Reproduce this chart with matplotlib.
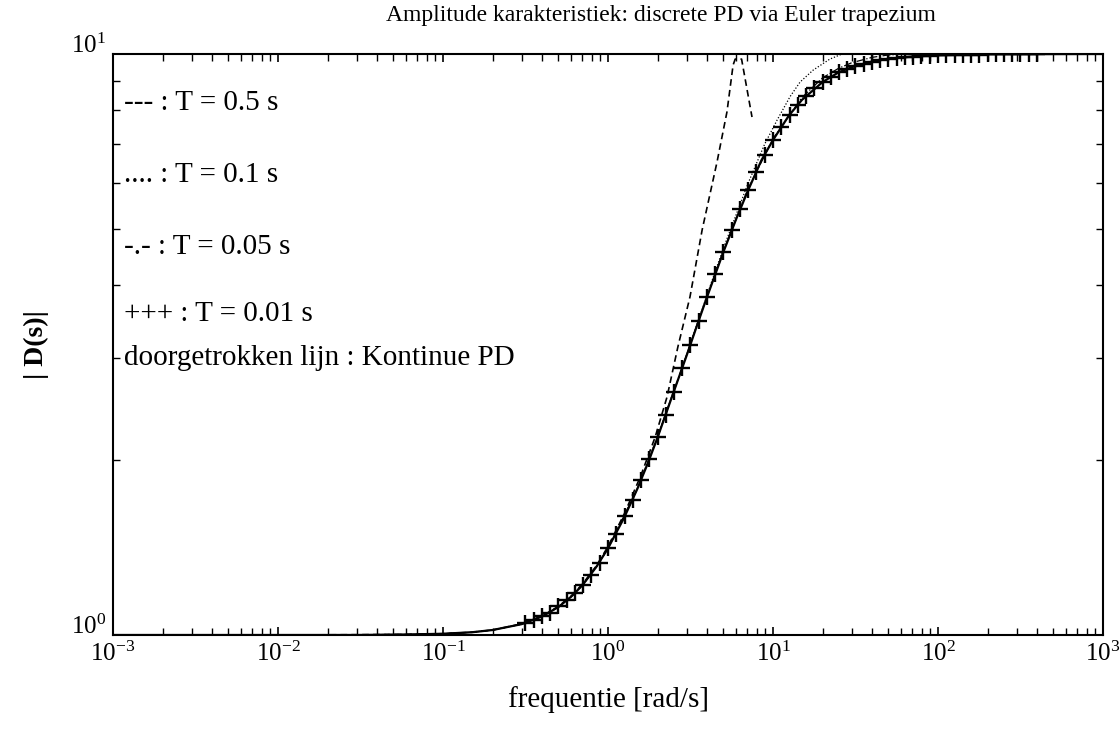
import matplotlib
matplotlib.use('Agg')
from matplotlib import pyplot as plt
from matplotlib.ticker import FixedLocator, LogLocator, NullFormatter
from matplotlib.transforms import ScaledTranslation

plt.rcParams['font.family'] = ['Liberation Serif', 'DejaVu Serif']
plt.rcParams['mathtext.fontset'] = 'stix'

# Continuous PD (solid line)
w_cont = [0.001, 0.01, 0.03, 0.06, 0.1, 0.15, 0.2, 0.3, 0.4, 0.5, 0.6, 0.7, 0.85,
          1.0, 1.25, 1.5, 1.75, 2.0, 2.5, 3.0, 3.5, 4.0, 5.0, 6.0, 7.0, 8.5,
          10, 12.5, 15, 20, 25, 30, 40, 50, 70, 100, 200, 1000]
mag_cont = [1.0, 1.0, 1.0, 1.002, 1.005, 1.011, 1.02, 1.044, 1.077, 1.117, 1.165, 1.218, 1.31,
            1.41, 1.59, 1.78, 1.98, 2.19, 2.62, 3.03, 3.44, 3.83, 4.56, 5.21, 5.79, 6.56,
            7.11, 7.84, 8.34, 8.95, 9.30, 9.49, 9.71, 9.81, 9.90, 9.95, 9.99, 10.0]

# T = 0.01 s (+++)
w_plus = [0.316, 0.355, 0.398, 0.447, 0.501, 0.562, 0.631, 0.708, 0.794, 0.891,
          1.0, 1.12, 1.26, 1.41, 1.58, 1.78, 2.0, 2.24, 2.51, 2.82,
          3.16, 3.55, 3.98, 4.47, 5.01, 5.62, 6.31, 7.08, 7.94, 8.91,
          10, 11.2, 12.6, 14.1, 15.8, 17.8, 20, 22.4, 25.1, 28.2,
          31.6, 35.5, 39.8, 44.7, 50.1, 56.2, 63.1, 70.8, 79.4, 89.1,
          100, 112, 126, 141, 158, 178, 200, 224, 251, 282, 316, 355, 398]
mag_plus = [1.05, 1.06, 1.08, 1.09, 1.12, 1.15, 1.18, 1.22, 1.27, 1.33,
            1.41, 1.49, 1.60, 1.71, 1.85, 2.01, 2.19, 2.39, 2.62, 2.88,
            3.16, 3.47, 3.81, 4.18, 4.57, 4.98, 5.40, 5.84, 6.27, 6.70,
            7.11, 7.50, 7.86, 8.18, 8.47, 8.73, 8.95, 9.14, 9.30, 9.43,
            9.54, 9.63, 9.70, 9.76, 9.81, 9.85, 9.88, 9.90, 9.92, 9.94,
            9.95, 9.96, 9.97, 9.98, 9.98, 9.98, 9.99, 9.99, 9.99, 9.99, 10.0, 10.0, 10.0]

# T = 0.5 s (dashed)
w_05 = [0.001, 0.01, 0.06, 0.1, 0.15, 0.2, 0.3, 0.4, 0.5, 0.6, 0.7, 0.85, 1.0, 1.26,
        1.58, 1.93, 2.28, 2.65, 3.14, 3.72, 4.58, 5.26, 5.73, 5.9, 6.45, 7.46]
mag_05 = [1.0, 1.0, 1.002, 1.005, 1.011, 1.02, 1.045, 1.078, 1.12, 1.168, 1.223, 1.315, 1.42, 1.62,
          1.88, 2.19, 2.57, 3.13, 3.82, 4.98, 6.52, 7.95, 9.57, 9.8, 9.8, 7.79]

# T = 0.1 s (dotted)
w_01 = [0.001, 0.01, 0.06, 0.1, 0.15, 0.2, 0.3, 0.4, 0.5, 0.6, 0.7, 0.85, 1.0, 1.5,
        2.0, 3.0, 4.0, 5.0, 7.08, 8.91, 10.6, 12.7, 14.6, 17.5, 22.1, 26.2, 31.4]
mag_01 = [1.0, 1.0, 1.002, 1.005, 1.011, 1.02, 1.044, 1.077, 1.117, 1.165, 1.218, 1.31, 1.41, 1.78,
          2.2, 3.04, 3.86, 4.63, 6.0, 7.0, 7.7, 8.45, 8.95, 9.38, 9.80, 10.0, 10.0]

# T = 0.05 s (dash-dot)
w_005 = [0.001, 0.01, 0.06, 0.1, 0.15, 0.2, 0.3, 0.4, 0.5, 0.6, 0.7, 0.85, 1.0, 1.5,
         2.0, 3.0, 4.0, 5.0, 7.0, 10, 15, 20, 25, 30, 40, 50, 62.8]
mag_005 = [1.0, 1.0, 1.002, 1.005, 1.011, 1.02, 1.044, 1.077, 1.117, 1.165, 1.218, 1.31, 1.41, 1.78,
           2.19, 3.04, 3.84, 4.57, 5.83, 7.15, 8.42, 9.1, 9.45, 9.66, 9.87, 9.96, 10.0]

x_ticks = [1e-3, 1e-2, 1e-1, 1e0, 1e1, 1e2, 1e3]
y_ticks = [1e0, 1e1]

legend_lines = ['--- : T = 0.5 s', '.... : T = 0.1 s', '-.- : T = 0.05 s',
                '+++ : T = 0.01 s', 'doorgetrokken lijn : Kontinue PD']
legend_y = [103, 175, 247, 314, 358]

fig = plt.figure(figsize=(11.2, 7.3), dpi=100)
ax = fig.add_axes([113 / 1120, 1 - 635 / 730, 990 / 1120, 581 / 730])

ax.loglog(w_cont, mag_cont, color='black', lw=1.6)
ax.loglog(w_plus, mag_plus, ls='none', marker='+', ms=11, mew=1.7, color='black')
ax.loglog(w_05, mag_05, color='black', ls=(0, (4, 2.5)), lw=1.2)
ax.loglog(w_01, mag_01, color='black', ls=(0, (1, 1.5)), lw=0.9)
ax.loglog(w_005, mag_005, color='black', ls='-.', lw=0.9)

ax.set_xlim(1e-3, 1e3)
ax.set_ylim(1, 10)
ax.xaxis.set_major_locator(FixedLocator(x_ticks))
ax.yaxis.set_major_locator(FixedLocator(y_ticks))
ax.xaxis.set_minor_locator(LogLocator(base=10, subs=range(2, 10), numticks=100))
ax.xaxis.set_minor_formatter(NullFormatter())
ax.yaxis.set_minor_locator(LogLocator(base=10, subs=range(2, 10), numticks=100))
ax.yaxis.set_minor_formatter(NullFormatter())
ax.tick_params(which='both', direction='in', top=True, right=True, labelsize=18, pad=5)
ax.tick_params(which='major', length=6, width=1.2)
ax.tick_params(which='minor', length=5, width=1.0)
# y labels sit a little above their ticks, as in the scan
shift = ScaledTranslation(0, -4 / 100, fig.dpi_scale_trans)
for lab in ax.get_yticklabels():
    lab.set_va('bottom')
    lab.set_transform(lab.get_transform() + shift)
for s in ax.spines.values():
    s.set_linewidth(1.5)

for txt, yp in zip(legend_lines, legend_y):
    ax.text((124 - 113) / 990, (635 - yp) / 581, txt, transform=ax.transAxes,
            fontsize=21, va='center', ha='left')

ax.set_title('Amplitude karakteristiek: discrete PD via Euler trapezium', fontsize=17,
             pad=24, x=(661 - 113) / 990)
ax.set_xlabel('frequentie [rad/s]', fontsize=21, labelpad=14)
ax.set_ylabel('| D(s)|', fontsize=20, fontweight='bold', labelpad=16)

plt.savefig('out.png', dpi=100)
